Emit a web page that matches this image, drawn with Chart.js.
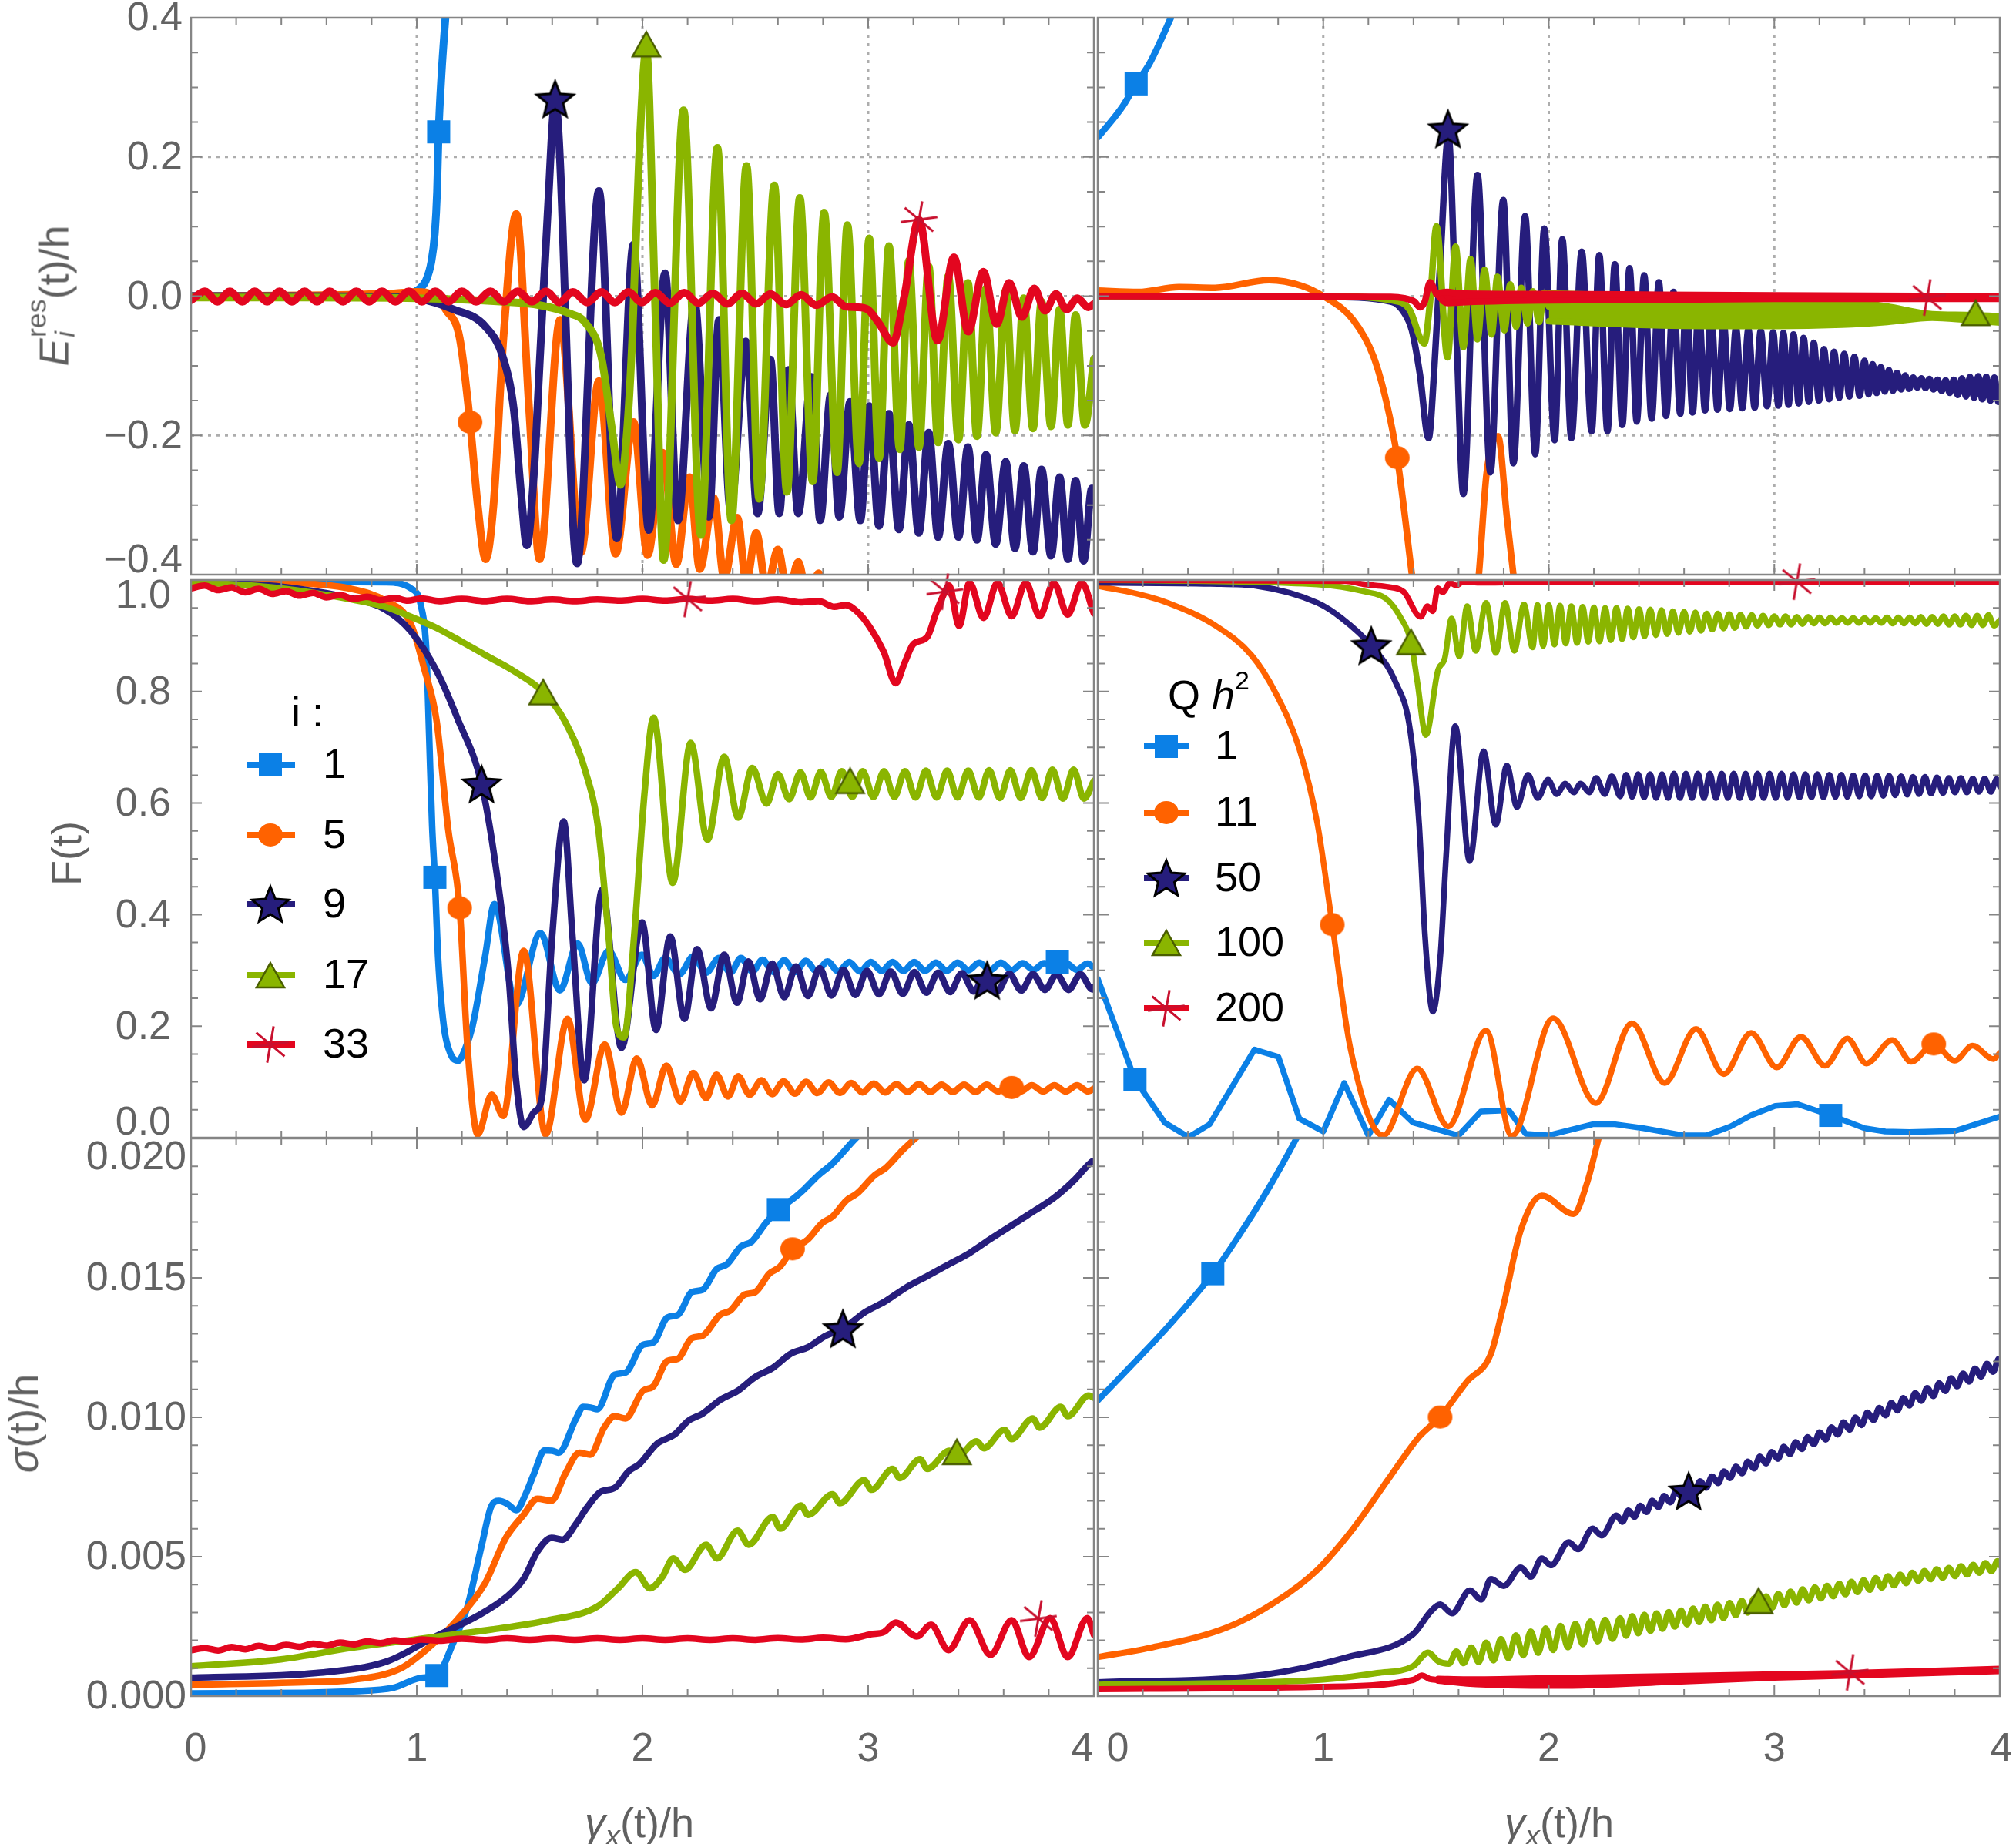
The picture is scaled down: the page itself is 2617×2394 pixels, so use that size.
<!DOCTYPE html>
<html lang="en">
<head>
<meta charset="UTF-8" />
<title>Residual energy, fidelity and spread</title>
<script src="https://cdn.jsdelivr.net/npm/chart.js@4"></script>
<style>
  body { margin: 0; background: #fff; }
  #page { position: relative; width: 2617px; height: 2394px; background: #fff; overflow: hidden; }
  #page canvas { position: absolute; }
  .ttl { position: absolute; z-index: 2; font: 54px "Liberation Sans", Arial, sans-serif; color: #606060;
         white-space: nowrap; line-height: 1; transform: translate(-50%, -50%); }
  .ttl.v { transform: translate(-50%, -50%) rotate(-90deg); }
  .ss { display: inline-block; font-size: 0.66em; line-height: 1.05; vertical-align: -0.25em; text-align: left; margin-left: 0.04em; }
  .ss span { display: block; }
  .ttl sub { font-size: 0.7em; vertical-align: -0.28em; line-height: 0; }
</style>
</head>
<body>
<div id="page">
  <div class="ttl v" style="left:67px;top:384px"><i>E</i><span class="ss"><span>res</span><span><i>i</i></span></span>(t)/h</div>
  <div class="ttl v" style="left:86px;top:1108px">F(t)</div>
  <div class="ttl v" style="left:30px;top:1848px"><i>σ</i>(t)/h</div>
  <div class="ttl" style="left:830px;top:2366px"><i>γ</i><sub><i>x</i></sub>(t)/h</div>
  <div class="ttl" style="left:2024px;top:2366px"><i>γ</i><sub><i>x</i></sub>(t)/h</div>
</div>

<script>
// ---------- tick labels / legend text ----------
const xTickValues = [0, 1, 2, 3, 4];
const xTickLabels = ['0', '1', '2', '3', '4'];
const eTickValues = [0.4, 0.2, 0, -0.2, -0.4];
const eTickLabels = ['0.4', '0.2', '0.0', '\u22120.2', '\u22120.4'];
const fTickValues = [1, 0.8, 0.6, 0.4, 0.2, 0];
const fTickLabels = ['1.0', '0.8', '0.6', '0.4', '0.2', '0.0'];
const sTickValues = [0.02, 0.015, 0.01, 0.005, 0];
const sTickLabels = ['0.020', '0.015', '0.010', '0.005', '0.000'];
const iLabels = ['1', '5', '9', '17', '33'];
const qLabels = ['1', '11', '50', '100', '200'];

// ---------- top left: E_i^res(t)/h, sites i ----------
const eI1 = [[0,0],[0.5,0],[0.9,0.001],[0.97,0.003],[1.0,0.008],[1.04,0.022],[1.065,0.05],[1.08,0.09],[1.09,0.15],[1.097,0.236],[1.11,0.32],[1.128,0.404],[1.14,0.46]];
const eI5 = [[0,0],[0.5,0.001],[0.9,0.004],[1.0,0.006],[1.08,0.0],[1.13,-0.02],[1.19,-0.06],[1.236,-0.181],[1.27,-0.3],[1.305,-0.378],[1.34,-0.3],[1.384,-0.06],[1.441,0.118],[1.498,-0.163],[1.544,-0.378],[1.635,-0.034],[1.727,-0.368],[1.807,-0.122],[1.881,-0.37],[1.96,-0.181],[2.023,-0.372],[2.089,-0.225],[2.15,-0.385],[2.208,-0.26],[2.254,-0.392],[2.316,-0.29],[2.362,-0.405],[2.42,-0.318],[2.46,-0.41],[2.504,-0.34],[2.55,-0.42],[2.6,-0.364],[2.645,-0.43],[2.69,-0.382],[2.735,-0.44],[2.78,-0.398],[2.83,-0.46],[3.0,-0.55],[4.0,-0.8]];
const eI9 = [[0,0],[0.5,0],[0.9,-0.001],[1.0,-0.003],[1.156,-0.018],[1.305,-0.044],[1.384,-0.09],[1.43,-0.163],[1.464,-0.29],[1.487,-0.358],[1.52,-0.25],[1.544,-0.1],[1.58,0.12],[1.613,0.28],[1.71,-0.384],[1.807,0.151],[1.886,-0.348],[1.96,0.074],[2.028,-0.336],[2.1,0.033],[2.157,-0.322],[2.231,-0.008],[2.294,-0.317],[2.339,-0.034],[2.39,-0.307],[2.458,-0.065],[2.51,-0.312],[2.567,-0.091],[2.606,-0.312],[2.646,-0.106],[2.69,-0.312],[2.749,-0.116],[2.787,-0.322],[2.834,-0.142],[2.872,-0.317],[2.92,-0.152],[2.965,-0.322],[3.005,-0.158],[3.048,-0.33],[3.092,-0.169],[3.136,-0.335],[3.18,-0.185],[3.224,-0.34],[3.268,-0.196],[3.31,-0.346],[3.355,-0.212],[3.4,-0.346],[3.442,-0.217],[3.482,-0.35],[3.522,-0.228],[3.565,-0.356],[3.609,-0.238],[3.65,-0.362],[3.689,-0.244],[3.73,-0.367],[3.768,-0.249],[3.81,-0.373],[3.848,-0.26],[3.885,-0.378],[3.919,-0.265],[3.955,-0.38],[3.991,-0.276],[4.0,-0.3]];
const eI17 = [[0,-0.002],[0.5,-0.002],[1.0,-0.003],[1.384,-0.008],[1.544,-0.013],[1.67,-0.024],[1.749,-0.039],[1.817,-0.086],[1.864,-0.189],[1.903,-0.271],[1.93,-0.2],[1.955,-0.06],[1.985,0.2],[2.017,0.355],[2.055,0.0],[2.094,-0.379],[2.182,0.267],[2.259,-0.343],[2.332,0.213],[2.394,-0.322],[2.461,0.187],[2.517,-0.291],[2.584,0.159],[2.64,-0.281],[2.697,0.141],[2.754,-0.266],[2.805,0.12],[2.862,-0.253],[2.908,0.102],[2.959,-0.24],[3.005,0.083],[3.048,-0.233],[3.092,0.072],[3.14,-0.22],[3.18,0.051],[3.225,-0.217],[3.268,0.043],[3.31,-0.21],[3.355,0.029],[3.4,-0.206],[3.442,0.019],[3.482,-0.201],[3.522,0.011],[3.565,-0.196],[3.609,0.008],[3.65,-0.193],[3.689,-0.003],[3.73,-0.19],[3.768,-0.008],[3.81,-0.187],[3.848,-0.019],[3.885,-0.185],[3.919,-0.027],[3.96,-0.185],[4.0,-0.09]];
const eI33 = [[0,-0.006],[0.061,0.007],[0.117,-0.008],[0.172,0.007],[0.227,-0.008],[0.282,0.007],[0.337,-0.008],[0.392,0.007],[0.447,-0.008],[0.503,0.007],[0.558,-0.008],[0.614,0.007],[0.673,-0.008],[0.732,0.007],[0.789,-0.008],[0.846,0.007],[0.905,-0.008],[0.965,0.007],[1.023,-0.008],[1.082,0.007],[1.141,-0.008],[1.2,0.007],[1.263,-0.008],[1.326,0.007],[1.386,-0.008],[1.447,0.007],[1.51,-0.008],[1.573,0.007],[1.632,-0.009],[1.692,0.006],[1.755,-0.009],[1.818,0.006],[1.877,-0.009],[1.937,0.006],[1.997,-0.009],[2.057,0.005],[2.121,-0.01],[2.185,0.005],[2.248,-0.01],[2.311,0.004],[2.376,-0.011],[2.441,0.004],[2.504,-0.011],[2.567,0.003],[2.635,-0.012],[2.703,0.002],[2.77,-0.013],[2.84,-0.001],[2.9,-0.015],[2.95,-0.016],[2.997,-0.019],[3.05,-0.04],[3.109,-0.067],[3.16,0.0],[3.225,0.11],[3.307,-0.064],[3.38,0.056],[3.443,-0.051],[3.51,0.035],[3.569,-0.04],[3.625,0.019],[3.681,-0.03],[3.736,0.011],[3.784,-0.021],[3.832,0.003],[3.879,-0.019],[3.927,-0.003],[3.975,-0.016],[4.0,-0.011]];
const eI1M = [[1.097,0.236]], eI5M = [[1.236,-0.181]], eI9M = [[1.613,0.283]], eI17M = [[2.017,0.362]], eI33M = [[3.225,0.11]];

// ---------- top right: E_i^res(t)/h, Q h^2 ----------
const eQ1 = [[0,0.228],[0.111,0.273],[0.17,0.305],[0.231,0.335],[0.324,0.4],[0.4,0.46]];
const eQ11 = [[0,0.008],[0.18,0.006],[0.36,0.013],[0.52,0.012],[0.76,0.023],[0.903,0.015],[1.0,0.0],[1.132,-0.034],[1.222,-0.086],[1.28,-0.152],[1.328,-0.232],[1.393,-0.4],[1.45,-0.55],[1.55,-0.7],[1.64,-0.55],[1.69,-0.4],[1.724,-0.255],[1.775,-0.201],[1.814,-0.317],[1.843,-0.4],[1.9,-0.55],[2.0,-0.7]];
const eQ50 = [[0,0],[1.0,-0.001],[1.303,-0.008],[1.359,-0.024],[1.393,-0.049],[1.428,-0.111],[1.467,-0.204],[1.493,-0.1],[1.519,0.05],[1.555,0.23],[1.59,-0.05],[1.621,-0.284],[1.684,0.174],[1.741,-0.253],[1.798,0.138],[1.843,-0.24],[1.895,0.115],[1.94,-0.227],[1.98,0.097],[2.026,-0.207],[2.06,0.082],[2.1,-0.204],[2.146,0.064],[2.19,-0.194],[2.224,0.059],[2.26,-0.194],[2.293,0.046],[2.326,-0.185],[2.358,0.04],[2.39,-0.18],[2.423,0.03],[2.456,-0.176],[2.488,0.02],[2.52,-0.172],[2.553,0.006],[2.583,-0.169],[2.61,-0.002],[2.638,-0.167],[2.665,-0.014],[2.693,-0.164],[2.72,-0.026],[2.748,-0.163],[2.775,-0.036],[2.803,-0.162],[2.83,-0.046],[2.858,-0.161],[2.885,-0.048],[2.913,-0.16],[2.94,-0.05],[2.968,-0.158],[2.995,-0.052],[3.018,-0.157],[3.04,-0.053],[3.063,-0.156],[3.085,-0.055],[3.108,-0.154],[3.13,-0.06],[3.153,-0.152],[3.175,-0.067],[3.198,-0.15],[3.22,-0.076],[3.243,-0.148],[3.265,-0.08],[3.288,-0.146],[3.31,-0.083],[3.333,-0.144],[3.355,-0.087],[3.378,-0.143],[3.4,-0.093],[3.418,-0.141],[3.436,-0.098],[3.454,-0.139],[3.472,-0.102],[3.49,-0.137],[3.508,-0.106],[3.526,-0.136],[3.544,-0.11],[3.562,-0.134],[3.58,-0.114],[3.598,-0.133],[3.616,-0.117],[3.634,-0.131],[3.652,-0.118],[3.67,-0.132],[3.688,-0.119],[3.706,-0.134],[3.724,-0.12],[3.742,-0.136],[3.76,-0.121],[3.778,-0.139],[3.796,-0.12],[3.814,-0.142],[3.832,-0.118],[3.85,-0.144],[3.868,-0.116],[3.886,-0.146],[3.904,-0.115],[3.922,-0.148],[3.94,-0.116],[3.958,-0.15],[3.976,-0.117],[3.994,-0.152],[4.0,-0.145]];
const eQ100 = [[0,0],[1.0,0],[1.303,-0.006],[1.382,-0.019],[1.448,-0.068],[1.473,-0.01],[1.502,0.1],[1.551,-0.088],[1.587,0.071],[1.621,-0.073],[1.653,0.053],[1.684,-0.062],[1.715,0.038],[1.747,-0.055],[1.772,0.028],[1.803,-0.049],[1.829,0.017],[1.855,-0.044],[1.878,0.012],[1.906,-0.039],[1.929,0.007],[1.957,-0.037],[1.98,0.005],[2.0,-0.015]];
const eQ100Hi = [[2.0,0.004],[2.5,0.0],[3.0,-0.002],[3.3,-0.006],[3.5,-0.015],[3.7,-0.026],[3.85,-0.027],[4.0,-0.029]];
const eQ100Lo = [[2.0,-0.036],[2.5,-0.042],[3.0,-0.043],[3.3,-0.041],[3.5,-0.037],[3.7,-0.031],[3.85,-0.034],[4.0,-0.038]];
const eQ200 = [[0,0],[1.3,-0.001],[1.359,-0.003],[1.405,-0.008],[1.428,-0.016],[1.45,-0.008],[1.473,0.02],[1.5,0.004]];
const eQ200Hi = [[1.5,0.004],[1.55,0.006],[1.6,0.004],[2.0,0.003],[2.5,0.002],[3.0,0.001],[4.0,0.0]];
const eQ200Lo = [[1.5,0.004],[1.55,-0.01],[1.6,-0.009],[2.0,-0.006],[2.5,-0.005],[3.0,-0.004],[4.0,-0.004]];
const eQ1M = [[0.17,0.305]], eQ11M = [[1.328,-0.232]], eQ50M = [[1.553,0.24]], eQ100M = [[3.893,-0.024]], eQ200M = [[3.678,-0.002]];

// ---------- middle left: fidelity F(t), sites i ----------
const fI1 = [[0,0.998],[0.5,0.997],[0.86,0.996],[0.974,0.985],[1.019,0.953],[1.042,0.876],[1.055,0.72],[1.068,0.56],[1.08,0.467],[1.095,0.32],[1.12,0.2],[1.15,0.15],[1.184,0.138],[1.215,0.16],[1.247,0.2],[1.304,0.328],[1.344,0.419],[1.44,0.238],[1.548,0.367],[1.634,0.264],[1.713,0.348],[1.776,0.277],[1.85,0.335],[1.924,0.283],[1.998,0.328],[2.049,0.29],[2.1,0.322],[2.163,0.293],[2.225,0.325],[2.282,0.296],[2.339,0.322],[2.39,0.296],[2.436,0.322],[2.487,0.298],[2.532,0.319],[2.58,0.297],[2.628,0.318],[2.676,0.297],[2.724,0.317],[2.772,0.298],[2.82,0.316],[2.868,0.298],[2.916,0.315],[2.964,0.298],[3.012,0.315],[3.06,0.299],[3.108,0.315],[3.156,0.299],[3.204,0.315],[3.252,0.299],[3.3,0.314],[3.348,0.299],[3.396,0.314],[3.444,0.3],[3.492,0.314],[3.54,0.3],[3.588,0.314],[3.636,0.3],[3.684,0.313],[3.732,0.301],[3.78,0.313],[3.828,0.301],[3.876,0.313],[3.924,0.301],[3.972,0.312],[4.0,0.305]];
const fI5 = [[0,0.999],[0.4,0.996],[0.7,0.985],[0.86,0.963],[0.974,0.921],[1.031,0.844],[1.088,0.747],[1.139,0.554],[1.19,0.412],[1.224,0.167],[1.27,0.006],[1.332,0.077],[1.383,0.039],[1.474,0.335],[1.571,0.006],[1.668,0.213],[1.747,0.032],[1.833,0.167],[1.907,0.045],[1.975,0.142],[2.043,0.058],[2.106,0.129],[2.168,0.065],[2.225,0.116],[2.282,0.071],[2.328,0.113],[2.379,0.074],[2.424,0.11],[2.475,0.077],[2.527,0.103],[2.575,0.078],[2.625,0.101],[2.675,0.079],[2.725,0.1],[2.775,0.08],[2.825,0.099],[2.875,0.08],[2.925,0.098],[2.975,0.081],[3.025,0.097],[3.075,0.081],[3.125,0.096],[3.175,0.082],[3.225,0.096],[3.275,0.082],[3.325,0.095],[3.375,0.082],[3.425,0.095],[3.475,0.082],[3.525,0.095],[3.575,0.083],[3.625,0.094],[3.675,0.083],[3.725,0.094],[3.775,0.083],[3.825,0.094],[3.875,0.083],[3.925,0.094],[3.975,0.083],[4.0,0.088]];
const fI9 = [[0,0.998],[0.4,0.988],[0.7,0.968],[0.86,0.947],[0.974,0.908],[1.088,0.837],[1.179,0.753],[1.287,0.634],[1.349,0.489],[1.406,0.296],[1.44,0.103],[1.474,0.019],[1.52,0.046],[1.554,0.071],[1.6,0.361],[1.651,0.567],[1.69,0.361],[1.742,0.103],[1.821,0.444],[1.907,0.161],[1.998,0.386],[2.06,0.193],[2.123,0.361],[2.186,0.213],[2.242,0.338],[2.304,0.232],[2.362,0.328],[2.419,0.242],[2.47,0.316],[2.521,0.248],[2.575,0.312],[2.628,0.252],[2.68,0.307],[2.733,0.254],[2.785,0.304],[2.838,0.255],[2.89,0.301],[2.943,0.256],[2.995,0.299],[3.048,0.257],[3.1,0.298],[3.153,0.258],[3.205,0.297],[3.258,0.26],[3.31,0.296],[3.363,0.261],[3.415,0.295],[3.468,0.262],[3.52,0.294],[3.573,0.263],[3.625,0.294],[3.678,0.264],[3.73,0.293],[3.783,0.265],[3.835,0.293],[3.888,0.265],[3.94,0.293],[3.993,0.266],[4.0,0.27]];
const fI17 = [[0,0.997],[0.4,0.985],[0.7,0.966],[0.86,0.952],[0.974,0.934],[1.088,0.914],[1.201,0.889],[1.315,0.863],[1.429,0.837],[1.56,0.799],[1.656,0.747],[1.747,0.657],[1.804,0.554],[1.85,0.361],[1.884,0.2],[1.918,0.18],[1.963,0.361],[2.009,0.618],[2.049,0.753],[2.134,0.457],[2.214,0.708],[2.288,0.534],[2.362,0.683],[2.424,0.574],[2.487,0.663],[2.55,0.599],[2.6,0.652],[2.65,0.607],[2.7,0.655],[2.745,0.61],[2.79,0.656],[2.837,0.611],[2.883,0.657],[2.93,0.611],[2.976,0.657],[3.023,0.611],[3.07,0.657],[3.116,0.611],[3.163,0.657],[3.21,0.61],[3.256,0.658],[3.303,0.61],[3.35,0.658],[3.396,0.61],[3.443,0.658],[3.49,0.61],[3.536,0.659],[3.583,0.609],[3.63,0.659],[3.676,0.609],[3.723,0.659],[3.77,0.609],[3.816,0.66],[3.863,0.608],[3.91,0.66],[3.956,0.608],[4.0,0.64]];
const fI33 = [[0,0.985],[0.06,0.99],[0.12,0.982],[0.18,0.987],[0.24,0.978],[0.3,0.984],[0.36,0.975],[0.42,0.98],[0.48,0.972],[0.54,0.977],[0.6,0.969],[0.66,0.973],[0.72,0.966],[0.78,0.97],[0.84,0.964],[0.9,0.968],[0.96,0.963],[1.02,0.967],[1.1,0.962],[1.2,0.966],[1.3,0.962],[1.4,0.966],[1.5,0.962],[1.6,0.965],[1.7,0.962],[1.8,0.965],[1.9,0.963],[2.0,0.966],[2.1,0.963],[2.2,0.966],[2.3,0.963],[2.4,0.966],[2.5,0.962],[2.6,0.965],[2.7,0.96],[2.78,0.962],[2.85,0.952],[2.9,0.955],[2.96,0.94],[3.013,0.912],[3.07,0.87],[3.122,0.815],[3.16,0.85],[3.2,0.885],[3.262,0.898],[3.3,0.94],[3.34,0.979],[3.358,0.99],[3.403,0.918],[3.449,0.995],[3.511,0.932],[3.573,0.995],[3.636,0.935],[3.698,0.995],[3.76,0.935],[3.822,0.995],[3.884,0.938],[3.946,0.995],[4.0,0.94]];
const fI1M = [[1.08,0.467],[3.838,0.315]], fI5M = [[1.19,0.412],[3.636,0.09]], fI9M = [[1.287,0.634],[3.527,0.282]], fI17M = [[1.56,0.799],[2.92,0.64]], fI33M = [[2.2,0.966],[3.34,0.979]];

// ---------- middle right: fidelity F(t), Q h^2 ----------
const fQ1 = [[0,0.285],[0.165,0.104],[0.297,0.027],[0.403,0.001],[0.496,0.024],[0.695,0.158],[0.801,0.145],[0.894,0.034],[1.0,0.011],[1.093,0.098],[1.2,0.004],[1.292,0.068],[1.398,0.027],[1.6,0.004],[1.699,0.047],[1.823,0.049],[1.897,0.007],[1.997,0.004],[2.195,0.024],[2.294,0.024],[2.42,0.017],[2.6,0.004],[2.699,0.004],[2.805,0.02],[2.897,0.04],[3.004,0.057],[3.103,0.06],[3.25,0.04],[3.4,0.017],[3.492,0.011],[3.599,0.01],[3.8,0.012],[4.0,0.038]];
const fQ11 = [[0,0.989],[0.178,0.975],[0.311,0.959],[0.523,0.918],[0.682,0.865],[0.788,0.798],[0.894,0.697],[0.974,0.563],[1.04,0.382],[1.12,0.161],[1.266,0.004],[1.417,0.124],[1.554,0.02],[1.722,0.192],[1.836,0.003],[2.019,0.214],[2.209,0.062],[2.369,0.205],[2.514,0.098],[2.653,0.195],[2.776,0.114],[2.897,0.188],[3.011,0.126],[3.118,0.181],[3.225,0.129],[3.324,0.178],[3.408,0.133],[3.523,0.175],[3.607,0.136],[3.707,0.168],[3.8,0.138],[3.879,0.165],[3.972,0.141],[4.0,0.152]];
const fQ50 = [[0,0.995],[0.5,0.993],[0.708,0.989],[0.974,0.959],[1.08,0.932],[1.213,0.882],[1.319,0.818],[1.385,0.731],[1.425,0.563],[1.451,0.362],[1.486,0.226],[1.52,0.33],[1.544,0.5],[1.585,0.738],[1.649,0.496],[1.711,0.693],[1.765,0.561],[1.814,0.667],[1.859,0.593],[1.908,0.651],[1.951,0.609],[1.997,0.642],[2.035,0.616],[2.073,0.635],[2.111,0.619],[2.141,0.635],[2.18,0.619],[2.21,0.645],[2.248,0.616],[2.279,0.648],[2.317,0.612],[2.343,0.651],[2.37,0.611],[2.396,0.652],[2.423,0.61],[2.449,0.652],[2.476,0.609],[2.502,0.652],[2.529,0.609],[2.555,0.653],[2.582,0.609],[2.608,0.653],[2.635,0.609],[2.661,0.653],[2.688,0.609],[2.714,0.653],[2.741,0.609],[2.767,0.653],[2.794,0.609],[2.82,0.653],[2.847,0.609],[2.873,0.653],[2.9,0.609],[2.926,0.653],[2.953,0.609],[2.979,0.653],[3.006,0.609],[3.032,0.653],[3.059,0.609],[3.085,0.652],[3.112,0.61],[3.138,0.652],[3.165,0.61],[3.191,0.652],[3.218,0.61],[3.244,0.651],[3.271,0.611],[3.297,0.651],[3.324,0.611],[3.35,0.65],[3.377,0.612],[3.403,0.65],[3.43,0.612],[3.456,0.649],[3.483,0.613],[3.509,0.649],[3.536,0.614],[3.562,0.648],[3.589,0.615],[3.615,0.647],[3.642,0.616],[3.668,0.647],[3.695,0.617],[3.721,0.646],[3.748,0.618],[3.774,0.645],[3.801,0.619],[3.827,0.645],[3.854,0.619],[3.88,0.644],[3.907,0.62],[3.933,0.644],[3.96,0.62],[3.986,0.643],[4.0,0.63]];
const fQ100 = [[0,1.0],[0.974,0.992],[1.186,0.979],[1.28,0.966],[1.341,0.934],[1.389,0.889],[1.417,0.818],[1.455,0.722],[1.508,0.837],[1.539,0.86],[1.569,0.931],[1.603,0.863],[1.638,0.953],[1.676,0.873],[1.722,0.959],[1.765,0.869],[1.806,0.959],[1.847,0.873],[1.89,0.956],[1.928,0.879],[1.95,0.955],[1.975,0.882],[2.0,0.955],[2.025,0.884],[2.05,0.954],[2.075,0.886],[2.1,0.953],[2.125,0.887],[2.15,0.952],[2.175,0.889],[2.2,0.951],[2.225,0.89],[2.25,0.95],[2.275,0.892],[2.3,0.95],[2.325,0.894],[2.35,0.949],[2.375,0.897],[2.4,0.948],[2.425,0.899],[2.45,0.947],[2.475,0.901],[2.5,0.946],[2.525,0.903],[2.55,0.944],[2.575,0.905],[2.6,0.943],[2.625,0.907],[2.65,0.942],[2.675,0.909],[2.7,0.94],[2.725,0.911],[2.75,0.94],[2.775,0.913],[2.8,0.939],[2.825,0.914],[2.85,0.938],[2.875,0.916],[2.9,0.937],[2.925,0.918],[2.95,0.936],[2.975,0.919],[3.0,0.935],[3.025,0.92],[3.05,0.935],[3.075,0.92],[3.1,0.934],[3.125,0.921],[3.15,0.934],[3.175,0.922],[3.2,0.933],[3.225,0.922],[3.25,0.933],[3.275,0.923],[3.3,0.932],[3.325,0.923],[3.35,0.932],[3.375,0.923],[3.4,0.932],[3.425,0.923],[3.45,0.932],[3.475,0.923],[3.5,0.933],[3.525,0.922],[3.55,0.933],[3.575,0.922],[3.6,0.933],[3.625,0.922],[3.65,0.934],[3.675,0.921],[3.7,0.934],[3.725,0.921],[3.75,0.935],[3.775,0.92],[3.8,0.935],[3.825,0.92],[3.85,0.936],[3.875,0.919],[3.9,0.936],[3.925,0.919],[3.95,0.937],[3.975,0.918],[4.0,0.928]];
const fQ200 = [[0,1.0],[1.1,0.998],[1.186,0.992],[1.28,0.988],[1.356,0.979],[1.432,0.934],[1.462,0.953],[1.486,0.944],[1.508,0.985],[1.53,0.978],[1.562,0.995],[1.59,0.99],[1.62,0.997],[1.7,0.995],[2.0,0.997],[4.0,0.997]];
const fQ1M = [[0.165,0.104],[3.25,0.04]], fQ11M = [[1.04,0.382],[3.707,0.168]], fQ50M = [[1.213,0.882]], fQ100M = [[1.389,0.889]], fQ200M = [[3.1,0.997]];

// ---------- bottom left: sigma(t)/h, sites i ----------
const sI1 = [[0,0.0001],[0.5,0.00012],[0.71,0.00017],[0.897,0.0003],[1.021,0.00066],[1.089,0.00074],[1.161,0.0019],[1.224,0.0032],[1.286,0.00535],[1.33,0.0068],[1.364,0.007],[1.4,0.0069],[1.442,0.00667],[1.48,0.0072],[1.52,0.00799],[1.566,0.00881],[1.6,0.0088],[1.628,0.00873],[1.706,0.00996],[1.737,0.01037],[1.77,0.01035],[1.8,0.01029],[1.877,0.01153],[1.924,0.0116],[2.002,0.0126],[2.048,0.01268],[2.11,0.01358],[2.157,0.01367],[2.219,0.01449],[2.266,0.01457],[2.328,0.01531],[2.375,0.01549],[2.437,0.01613],[2.484,0.0163],[2.546,0.01696],[2.602,0.01745],[2.671,0.01786],[2.718,0.01819],[2.779,0.01868],[2.842,0.0191],[2.935,0.01992],[2.98,0.0203],[3.05,0.021]];
const sI5 = [[0,0.00041],[0.5,0.0005],[0.71,0.00058],[0.928,0.00099],[1.052,0.00173],[1.177,0.00272],[1.302,0.00404],[1.395,0.00568],[1.473,0.0065],[1.535,0.00708],[1.597,0.00701],[1.659,0.00799],[1.721,0.00873],[1.768,0.00866],[1.83,0.00963],[1.877,0.01004],[1.924,0.00996],[2.002,0.01095],[2.048,0.01111],[2.11,0.01202],[2.157,0.0121],[2.219,0.01284],[2.266,0.01292],[2.343,0.01367],[2.39,0.01383],[2.453,0.0144],[2.5,0.01449],[2.562,0.01515],[2.609,0.0154],[2.665,0.01602],[2.733,0.01638],[2.795,0.01696],[2.842,0.0172],[2.904,0.01778],[2.951,0.01803],[3.029,0.01868],[3.076,0.01893],[3.154,0.01959],[3.231,0.02017],[3.3,0.0207]];
const sI9 = [[0,0.00066],[0.554,0.00083],[0.866,0.00124],[1.083,0.00214],[1.27,0.00288],[1.395,0.00354],[1.473,0.0042],[1.535,0.00519],[1.597,0.00568],[1.645,0.00561],[1.706,0.00618],[1.753,0.00675],[1.815,0.00733],[1.877,0.00747],[1.939,0.00807],[1.986,0.00832],[2.064,0.00905],[2.142,0.00938],[2.204,0.00988],[2.266,0.01013],[2.344,0.01062],[2.422,0.01095],[2.499,0.01144],[2.577,0.01177],[2.655,0.01227],[2.733,0.01251],[2.811,0.01292],[2.888,0.01317],[2.982,0.01375],[3.076,0.01416],[3.169,0.01466],[3.263,0.01507],[3.356,0.01548],[3.449,0.01589],[3.539,0.01638],[3.636,0.01688],[3.729,0.01737],[3.822,0.01786],[3.915,0.01852],[3.993,0.01918],[4.0,0.0192]];
const sI17 = [[0,0.00107],[0.399,0.00132],[0.71,0.00173],[1.021,0.00206],[1.332,0.00239],[1.581,0.00272],[1.8,0.00321],[1.892,0.00387],[1.97,0.00445],[2.033,0.00387],[2.09,0.0043],[2.136,0.00494],[2.188,0.00453],[2.282,0.00543],[2.33,0.00494],[2.422,0.00593],[2.47,0.00543],[2.577,0.00642],[2.61,0.00601],[2.702,0.00684],[2.734,0.0065],[2.842,0.00724],[2.875,0.00692],[2.982,0.00774],[3.015,0.0074],[3.108,0.00815],[3.14,0.00782],[3.23,0.0085],[3.262,0.00815],[3.36,0.0088],[3.39,0.00855],[3.481,0.00914],[3.512,0.00889],[3.604,0.00955],[3.635,0.00922],[3.729,0.00996],[3.76,0.00963],[3.853,0.01037],[3.884,0.01004],[3.977,0.01078],[4.0,0.0107]];
const sI33 = [[0,0.00165],[0.06,0.00172],[0.12,0.00164],[0.18,0.00176],[0.24,0.00168],[0.3,0.0018],[0.36,0.00172],[0.42,0.00184],[0.48,0.00177],[0.54,0.00188],[0.6,0.00181],[0.66,0.00192],[0.72,0.00186],[0.78,0.00196],[0.84,0.0019],[0.9,0.002],[0.96,0.00195],[1.02,0.00203],[1.1,0.00199],[1.2,0.00206],[1.3,0.00201],[1.4,0.00207],[1.5,0.00202],[1.6,0.00207],[1.7,0.00202],[1.8,0.00207],[1.9,0.00202],[2.0,0.00207],[2.1,0.00202],[2.2,0.00207],[2.3,0.00202],[2.4,0.00207],[2.5,0.00202],[2.6,0.00208],[2.7,0.00203],[2.8,0.00209],[2.9,0.00204],[3.013,0.00222],[3.07,0.0023],[3.122,0.00264],[3.216,0.00214],[3.278,0.00256],[3.356,0.00165],[3.449,0.00272],[3.542,0.00148],[3.636,0.00272],[3.713,0.0014],[3.806,0.0028],[3.884,0.0014],[3.971,0.0028],[4.0,0.0022]];
const sI1M = [[1.089,0.00074],[2.602,0.01745]], sI5M = [[2.665,0.01604]], sI9M = [[2.888,0.01317]], sI17M = [[3.393,0.00876]], sI33M = [[3.754,0.00278]];

// ---------- bottom right: sigma(t)/h, Q h^2 ----------
const sQ1 = [[0,0.0106],[0.178,0.0121],[0.311,0.01325],[0.51,0.01515],[0.629,0.01655],[0.762,0.01827],[0.881,0.02],[0.95,0.0211]];
const sQ11 = [[0,0.0014],[0.231,0.00173],[0.576,0.00247],[0.788,0.00338],[0.974,0.00453],[1.133,0.00601],[1.292,0.00782],[1.425,0.0093],[1.518,0.01001],[1.637,0.01128],[1.743,0.01227],[1.796,0.01391],[1.876,0.01671],[1.969,0.01795],[2.11,0.01729],[2.168,0.01836],[2.221,0.02],[2.27,0.0215]];
const sQ50 = [[0,0.0005],[0.708,0.00074],[1.107,0.0014],[1.398,0.00222],[1.478,0.00305],[1.518,0.00329],[1.571,0.00297],[1.65,0.00379],[1.7,0.00346],[1.743,0.0042],[1.8,0.00395],[1.876,0.00461],[1.92,0.00428],[1.969,0.00494],[2.01,0.00469],[2.088,0.00552],[2.13,0.00527],[2.194,0.00601],[2.235,0.00576],[2.3,0.00648],[2.327,0.00625],[2.353,0.00666],[2.38,0.00643],[2.406,0.00683],[2.433,0.0066],[2.459,0.00701],[2.486,0.00678],[2.512,0.00718],[2.539,0.00695],[2.565,0.00736],[2.592,0.00712],[2.618,0.00753],[2.645,0.0073],[2.671,0.00771],[2.698,0.00747],[2.724,0.00788],[2.751,0.00764],[2.777,0.00806],[2.804,0.00782],[2.83,0.00823],[2.857,0.00799],[2.883,0.00841],[2.91,0.00816],[2.936,0.00859],[2.963,0.00834],[2.989,0.00876],[3.016,0.00851],[3.042,0.00894],[3.069,0.00868],[3.095,0.00911],[3.122,0.00886],[3.148,0.00929],[3.175,0.00903],[3.201,0.00946],[3.228,0.0092],[3.254,0.00964],[3.281,0.00938],[3.307,0.00982],[3.334,0.00955],[3.36,0.00999],[3.387,0.00972],[3.413,0.01017],[3.44,0.0099],[3.466,0.01034],[3.493,0.01007],[3.519,0.01052],[3.546,0.01024],[3.572,0.01069],[3.599,0.01042],[3.625,0.01087],[3.652,0.01059],[3.678,0.01105],[3.705,0.01076],[3.731,0.01122],[3.758,0.01094],[3.784,0.0114],[3.811,0.01111],[3.837,0.01157],[3.864,0.01128],[3.89,0.01175],[3.917,0.01146],[3.943,0.01192],[3.97,0.01163],[3.996,0.0121],[4.0,0.012]];
const sQ100 = [[0,0.00041],[0.974,0.00058],[1.239,0.00083],[1.398,0.00107],[1.465,0.00156],[1.51,0.00125],[1.558,0.00116],[1.59,0.0016],[1.623,0.00118],[1.656,0.00175],[1.689,0.00122],[1.722,0.00192],[1.755,0.00128],[1.788,0.00205],[1.821,0.00136],[1.854,0.00218],[1.887,0.00146],[1.92,0.00232],[1.953,0.00155],[1.986,0.00243],[2.019,0.00165],[2.052,0.00252],[2.085,0.00175],[2.118,0.0026],[2.151,0.00186],[2.184,0.00268],[2.217,0.00196],[2.25,0.00274],[2.283,0.00205],[2.316,0.0028],[2.343,0.00216],[2.37,0.00287],[2.397,0.00225],[2.424,0.00292],[2.451,0.00233],[2.478,0.00297],[2.505,0.00241],[2.532,0.00302],[2.559,0.00249],[2.586,0.00307],[2.613,0.00257],[2.64,0.00314],[2.667,0.00265],[2.694,0.00321],[2.721,0.00272],[2.748,0.00328],[2.775,0.0028],[2.802,0.00334],[2.829,0.0029],[2.856,0.00342],[2.883,0.00299],[2.91,0.0035],[2.937,0.00307],[2.964,0.00358],[2.991,0.00317],[3.018,0.00367],[3.045,0.00326],[3.072,0.00375],[3.099,0.00335],[3.126,0.00383],[3.153,0.00343],[3.18,0.0039],[3.207,0.0035],[3.234,0.00396],[3.261,0.00358],[3.288,0.00403],[3.315,0.00365],[3.342,0.0041],[3.369,0.00373],[3.396,0.00416],[3.423,0.00381],[3.45,0.00423],[3.477,0.00389],[3.504,0.0043],[3.531,0.00397],[3.558,0.00436],[3.585,0.00405],[3.612,0.00443],[3.639,0.00413],[3.666,0.00449],[3.693,0.00419],[3.72,0.00455],[3.747,0.00424],[3.774,0.0046],[3.801,0.0043],[3.828,0.00466],[3.855,0.00436],[3.882,0.00471],[3.909,0.00442],[3.936,0.00477],[3.963,0.00448],[3.99,0.00484],[4.0,0.0047]];
const sQ200 = [[0,0.00025],[0.974,0.00033],[1.398,0.00058],[1.438,0.00074],[1.47,0.00062],[1.51,0.00058]];
const sQ200Hi = [[1.51,0.00062],[1.637,0.0006],[2.035,0.00065],[2.566,0.00072],[3.0,0.00078],[3.336,0.00083],[4.0,0.00098]];
const sQ200Lo = [[1.51,0.00055],[1.637,0.00045],[2.035,0.00037],[2.566,0.00052],[3.0,0.00066],[3.336,0.00074],[4.0,0.0009]];
const sQ1M = [[0.51,0.01515]], sQ11M = [[1.518,0.01001]], sQ50M = [[2.62,0.00735]], sQ100M = [[2.93,0.00342]], sQ200M = [[3.336,0.00085]];

// ---------- styling ----------
const COL = { blue: '#0b80e6', orange: '#ff6200', navy: '#261d7c', green: '#8ab500', red: '#e3061f' };
const FONT = '"Liberation Sans", Arial, sans-serif';

function mk(w, h, draw) {
  const c = document.createElement('canvas');
  c.width = w; c.height = h;
  draw(c.getContext('2d'), w / 2, h / 2);
  return c;
}
const MARK = {
  square: mk(32, 32, (g) => { g.fillStyle = COL.blue; g.fillRect(1, 1, 30, 30); }),
  circle: mk(34, 32, (g, cx, cy) => { g.fillStyle = COL.orange; g.beginPath(); g.ellipse(cx, cy, 16, 15, 0, 0, Math.PI * 2); g.fill(); }),
  star: mk(60, 58, (g, cx, cy) => {
    g.beginPath();
    for (let k = 0; k < 10; k++) {
      const r = k % 2 ? 11 : 25, a = -Math.PI / 2 + k * Math.PI / 5;
      g.lineTo(cx + r * Math.cos(a), cy + 2 + r * Math.sin(a));
    }
    g.closePath(); g.fillStyle = COL.navy; g.fill();
    g.lineWidth = 3; g.lineJoin = 'miter'; g.strokeStyle = '#000'; g.stroke();
  }),
  triangle: mk(42, 38, (g) => {
    g.beginPath(); g.moveTo(21, 3); g.lineTo(39, 35); g.lineTo(3, 35); g.closePath();
    g.fillStyle = COL.green; g.fill(); g.lineWidth = 2.5; g.strokeStyle = '#4a5e00'; g.stroke();
  }),
  aster: mk(56, 56, (g, cx, cy) => {
    g.strokeStyle = '#c8102e'; g.lineWidth = 3; g.lineCap = 'butt';
    [-8, 40, 100].forEach(d => {
      const a = d * Math.PI / 180;
      g.beginPath();
      g.moveTo(cx - 24 * Math.cos(a), cy - 24 * Math.sin(a));
      g.lineTo(cx + 24 * Math.cos(a), cy + 24 * Math.sin(a));
      g.stroke();
    });
  })
};

function curve(pts, color, width, order, extra) {
  return Object.assign({
    data: pts.map(p => ({ x: p[0], y: p[1] })),
    borderColor: color, borderWidth: width, pointRadius: 0, fill: false, clip: 0, order: order,
    cubicInterpolationMode: 'monotone', borderJoinStyle: 'round', borderCapStyle: 'round'
  }, extra || {});
}
function band(hi, lo, color, width, order) {
  return [curve(hi, color, width, order), curve(lo, color, width, order, { fill: '-1', backgroundColor: color })];
}
function marks(pts, img) {
  return { data: pts.map(p => ({ x: p[0], y: p[1] })), showLine: false, pointStyle: img,
           pointRadius: 12, pointHoverRadius: 12, clip: false, order: -1 };
}

function steps(min, max, step) {
  const out = [], n = Math.round((max - min) / step);
  for (let k = 0; k <= n; k++) out.push(min + k * step);
  return out;
}
const near = (v, list) => list.some(u => Math.abs(u - v) < 1e-9);

const panelDecor = {
  id: 'panelDecor',
  beforeDatasetsDraw(chart, args, o) {
    if (!o.grid) return;
    const { ctx, chartArea: a, scales: { x, y } } = chart;
    ctx.save();
    ctx.strokeStyle = '#adadad'; ctx.lineWidth = 3; ctx.setLineDash([4, 7]);
    ctx.beginPath();
    o.grid.x.forEach(v => { const p = x.getPixelForValue(v); ctx.moveTo(p, a.top); ctx.lineTo(p, a.bottom); });
    o.grid.y.forEach(v => { const p = y.getPixelForValue(v); ctx.moveTo(a.left, p); ctx.lineTo(a.right, p); });
    ctx.stroke();
    ctx.restore();
  },
  afterDatasetsDraw(chart, args, o) {
    const { ctx, chartArea: a, scales: { x, y } } = chart;
    ctx.save();
    ctx.strokeStyle = '#858585';
    ctx.lineWidth = 2.5;
    ctx.strokeRect(a.left, a.top, a.right - a.left, a.bottom - a.top);
    ctx.lineWidth = 2;
    ctx.beginPath();
    steps(x.min, x.max, 0.2).forEach(v => {
      const p = x.getPixelForValue(v), len = near(v, xTickValues) ? 14 : 9;
      ctx.moveTo(p, a.bottom); ctx.lineTo(p, a.bottom - len);
      ctx.moveTo(p, a.top); ctx.lineTo(p, a.top + len);
    });
    steps(y.min, y.max, o.yStep).forEach(v => {
      const p = y.getPixelForValue(v), len = near(v, o.yMajor) ? 14 : 9;
      ctx.moveTo(a.left, p); ctx.lineTo(a.left + len, p);
      ctx.moveTo(a.right, p); ctx.lineTo(a.right - len, p);
    });
    ctx.stroke();
    ctx.restore();
  },
  afterDraw(chart, args, o) {
    const { ctx, chartArea: a, scales: { x, y } } = chart;
    ctx.save();
    ctx.fillStyle = '#636363';
    ctx.font = '52px ' + FONT;
    ctx.textBaseline = 'middle';
    if (o.yLabels) {
      ctx.textAlign = 'right';
      o.yLabels.values.forEach((v, k) => {
        const t = o.yLabels.text[k];
        ctx.fillText(t, a.left - o.yLabels.gap, y.getPixelForValue(v) + 2 + (o.yLabels.nudge[t] || 0));
      });
    }
    if (o.xLabels) {
      ctx.textAlign = 'center';
      xTickValues.forEach((v, k) => {
        const t = xTickLabels[k];
        ctx.fillText(t, x.getPixelForValue(v) + (o.xLabels.nudge[t] || 0), a.bottom + 70);
      });
    }
    if (o.legend) {
      const L = o.legend;
      ctx.translate(-o.origin.x, -o.origin.y);
      ctx.fillStyle = '#000';
      ctx.font = '54px ' + FONT;
      ctx.textAlign = 'left';
      let tx = L.titleX;
      L.title.forEach(run => {
        ctx.font = (run.italic ? 'italic ' : '') + (run.sup ? '34px ' : '54px ') + FONT;
        ctx.fillText(run.t, tx, L.titleY + (run.sup ? -20 : 0));
        tx += ctx.measureText(run.t).width;
      });
      ctx.font = '54px ' + FONT;
      L.items.forEach((it, k) => {
        const ry = L.rows[k];
        ctx.strokeStyle = it.color; ctx.lineWidth = 8;
        ctx.beginPath(); ctx.moveTo(L.x0, ry); ctx.lineTo(L.x1, ry); ctx.stroke();
        ctx.drawImage(it.mark, L.mx - it.mark.width / 2, ry - it.mark.height / 2);
        ctx.fillText(it.label, L.lx, ry + 2);
      });
    }
    ctx.restore();
  }
};

const page = document.getElementById('page');
function makePanel(box, pad, ymin, ymax, datasets, decor) {
  const cv = document.createElement('canvas');
  cv.width = box.w; cv.height = box.h;
  cv.style.left = box.x + 'px'; cv.style.top = box.y + 'px';
  cv.style.width = box.w + 'px'; cv.style.height = box.h + 'px';
  page.appendChild(cv);
  decor.origin = { x: box.x, y: box.y };
  new Chart(cv, {
    type: 'line',
    data: { datasets: datasets },
    options: {
      responsive: false, animation: false, devicePixelRatio: 1, events: [],
      layout: { padding: pad },
      plugins: { legend: { display: false }, tooltip: { enabled: false }, panelDecor: decor },
      scales: {
        x: { type: 'linear', min: 0, max: 4, display: false },
        y: { type: 'linear', min: ymin, max: ymax, display: false }
      }
    },
    plugins: [panelDecor]
  });
}

// canvas boxes (page px) and paddings that put the plot frames in place
const colL = { x: 0, w: 1445, padL: 248, padR: 25 };
const colR = { x: 1400, w: 1217, padL: 25, padR: 21 };
const rowT = { y: 0, h: 770, padT: 23, padB: 24 };
const rowM = { y: 730, h: 770, padT: 23, padB: 23 };
const rowB = { y: 1455, h: 939, padT: 23, padB: 192 };
const box = (c, r) => ({ x: c.x, y: r.y, w: c.w, h: r.h });
const pad = (c, r) => ({ left: c.padL, right: c.padR, top: r.padT, bottom: r.padB });
const topGrid = { x: [1, 2, 3], y: [0.2, 0, -0.2] };

// top left
makePanel(box(colL, rowT), pad(colL, rowT), -0.4, 0.4, [
  curve(eI1, COL.blue, 10, 5), curve(eI5, COL.orange, 10, 4), curve(eI9, COL.navy, 10, 3),
  curve(eI17, COL.green, 10, 2), curve(eI33, COL.red, 10, 1),
  marks(eI1M, MARK.square), marks(eI5M, MARK.circle), marks(eI9M, MARK.star), marks(eI17M, MARK.triangle), marks(eI33M, MARK.aster)
], { grid: topGrid, yStep: 0.05, yMajor: eTickValues,
     yLabels: { values: eTickValues, text: eTickLabels, gap: 11, nudge: { '\u22120.4': -19 } } });

// top right
makePanel(box(colR, rowT), pad(colR, rowT), -0.4, 0.4, [
  curve(eQ1, COL.blue, 8.5, 5), curve(eQ11, COL.orange, 8.5, 4), curve(eQ50, COL.navy, 8.5, 3),
  curve(eQ100, COL.green, 8.5, 2), ...band(eQ100Hi, eQ100Lo, COL.green, 8.5, 2),
  curve(eQ200, COL.red, 8.5, 1), ...band(eQ200Hi, eQ200Lo, COL.red, 8.5, 1),
  marks(eQ1M, MARK.square), marks(eQ11M, MARK.circle), marks(eQ50M, MARK.star), marks(eQ100M, MARK.triangle), marks(eQ200M, MARK.aster)
], { grid: topGrid, yStep: 0.05, yMajor: eTickValues });

// middle left
makePanel(box(colL, rowM), pad(colL, rowM), 0, 1, [
  curve(fI1, COL.blue, 8.5, 5), curve(fI5, COL.orange, 8.5, 4), curve(fI9, COL.navy, 8.5, 3),
  curve(fI17, COL.green, 8.5, 2), curve(fI33, COL.red, 8.5, 1),
  marks(fI1M, MARK.square), marks(fI5M, MARK.circle), marks(fI9M, MARK.star), marks(fI17M, MARK.triangle), marks(fI33M, MARK.aster)
], { yStep: 0.05, yMajor: fTickValues,
     yLabels: { values: fTickValues, text: fTickLabels, gap: 26, nudge: { '1.0': 20, '0.0': -20 } },
     legend: { title: [{ t: 'i :' }], titleX: 378, titleY: 928, x0: 320, x1: 383, mx: 351, lx: 419,
               rows: [993, 1084, 1174, 1266, 1356],
               items: [
                 { label: iLabels[0], color: COL.blue, mark: MARK.square },
                 { label: iLabels[1], color: COL.orange, mark: MARK.circle },
                 { label: iLabels[2], color: COL.navy, mark: MARK.star },
                 { label: iLabels[3], color: COL.green, mark: MARK.triangle },
                 { label: iLabels[4], color: COL.red, mark: MARK.aster }] } });

// middle right
makePanel(box(colR, rowM), pad(colR, rowM), 0, 1, [
  curve(fQ1, COL.blue, 7.5, 5, { cubicInterpolationMode: 'default', tension: 0 }),
  curve(fQ11, COL.orange, 7.5, 4), curve(fQ50, COL.navy, 7.5, 3),
  curve(fQ100, COL.green, 7.5, 2), curve(fQ200, COL.red, 7.5, 1),
  marks(fQ1M, MARK.square), marks(fQ11M, MARK.circle), marks(fQ50M, MARK.star), marks(fQ100M, MARK.triangle), marks(fQ200M, MARK.aster)
], { yStep: 0.05, yMajor: fTickValues,
     legend: { title: [{ t: 'Q ' }, { t: 'h', italic: true }, { t: '2', sup: true }], titleX: 1516, titleY: 906,
               x0: 1485, x1: 1544, mx: 1514, lx: 1577,
               rows: [969, 1055, 1140, 1224, 1309],
               items: [
                 { label: qLabels[0], color: COL.blue, mark: MARK.square },
                 { label: qLabels[1], color: COL.orange, mark: MARK.circle },
                 { label: qLabels[2], color: COL.navy, mark: MARK.star },
                 { label: qLabels[3], color: COL.green, mark: MARK.triangle },
                 { label: qLabels[4], color: COL.red, mark: MARK.aster }] } });

// bottom left
makePanel(box(colL, rowB), pad(colL, rowB), 0, 0.02, [
  curve(sI1, COL.blue, 8.5, 5), curve(sI5, COL.orange, 8.5, 4), curve(sI9, COL.navy, 8.5, 3),
  curve(sI17, COL.green, 8.5, 2), curve(sI33, COL.red, 8.5, 1),
  marks(sI1M, MARK.square), marks(sI5M, MARK.circle), marks(sI9M, MARK.star), marks(sI17M, MARK.triangle), marks(sI33M, MARK.aster)
], { yStep: 0.001, yMajor: sTickValues,
     yLabels: { values: sTickValues, text: sTickLabels, gap: 6, nudge: { '0.020': 24 } },
     xLabels: { nudge: { '0': 6, '4': -15 } } });

// bottom right
makePanel(box(colR, rowB), pad(colR, rowB), 0, 0.02, [
  curve(sQ1, COL.blue, 8, 5), curve(sQ11, COL.orange, 8, 4), curve(sQ50, COL.navy, 8, 3),
  curve(sQ100, COL.green, 8, 2),
  curve(sQ200, COL.red, 8, 1), ...band(sQ200Hi, sQ200Lo, COL.red, 8, 1),
  marks(sQ1M, MARK.square), marks(sQ11M, MARK.circle), marks(sQ50M, MARK.star), marks(sQ100M, MARK.triangle), marks(sQ200M, MARK.aster)
], { yStep: 0.001, yMajor: sTickValues,
     xLabels: { nudge: { '0': 26, '4': 2 } } });
</script>
</body>
</html>
